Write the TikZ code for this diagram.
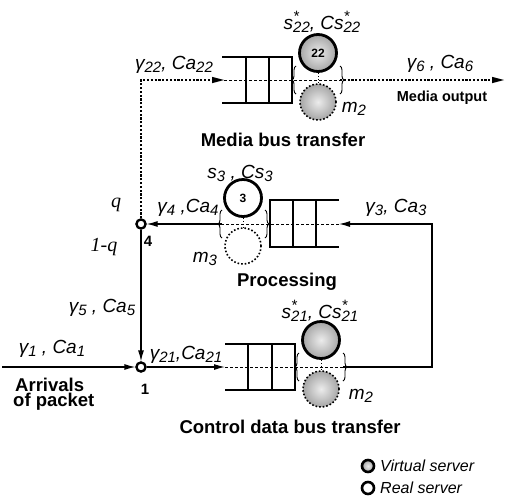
\documentclass[tikz,border=0pt]{standalone}
\usepackage{fontspec}
\setmainfont{Liberation Sans}
\newfontfamily\labfont{Liberation Sans}
\newfontfamily\serfont{Liberation Serif}
\usetikzlibrary{arrows.meta,decorations.pathreplacing,shadings}
\newcommand\sbx[1]{\raisebox{-0.3ex}{\fontsize{15}{15}\selectfont #1}}
\newcommand\ssx[1]{\rlap{\raisebox{0.85ex}{\fontsize{15}{15}\selectfont *}}\raisebox{-0.3ex}{\fontsize{15}{15}\selectfont #1}}
\tikzset{
  lab/.style={font=\labfont\itshape\fontsize{19}{19}\selectfont, inner sep=0pt},
  ttl/.style={font=\labfont\bfseries\fontsize{18.5}{18.5}\selectfont, inner sep=0pt},
  sttl/.style={font=\labfont\bfseries\fontsize{14.5}{14.5}\selectfont, inner sep=0pt},
  ser/.style={font=\serfont\itshape\fontsize{20}{20}\selectfont, inner sep=0pt},
  qline/.style={line width=2.6pt},
  flow/.style={line width=1.2pt},
  mflow/.style={line width=2.2pt, dash pattern=on 2.2pt off 1.6pt},
  inner/.style={line width=0.8pt, dash pattern=on 3pt off 2pt},
  arr/.style={-{Latex[length=11pt,width=6pt]}},
  real/.style={circle, draw, line width=2.8pt, minimum size=37pt, inner sep=0pt, fill=white, font=\labfont\bfseries\fontsize{12}{12}\selectfont},
  virt/.style={real, inner color=gray!15, outer color=gray!70},
  vdash/.style={circle, draw, line width=1.6pt, dotted, minimum size=36pt, inner sep=0pt},
  vdashg/.style={vdash, inner color=gray!15, outer color=gray!70},
  joint/.style={circle, draw, line width=2.2pt, fill=white, minimum size=9pt, inner sep=0pt},
  brc/.style={decorate, decoration={brace, amplitude=4pt}, line width=0.9pt},
  lg/.style={circle, draw, line width=2.6pt, minimum size=12pt, inner sep=0pt},
  link/.style={line width=0.6pt, dash pattern=on 1.5pt off 1.5pt},
}
\begin{document}
\begin{tikzpicture}[x=1pt,y=-1pt]
\useasboundingbox (0,0) rectangle (505,499);
% junction nodes and corners
\node[joint] (n4) at (141,224) {};
\node[joint] (n1) at (141,367) {};
\coordinate (c1) at (141,80);
\coordinate (mq) at (224,80);
\coordinate (mb) at (340,80);
\coordinate (mo) at (504,80);
\coordinate (pr) at (432,224);
\coordinate (pq) at (339,224);
\coordinate (pb) at (222,224);
\coordinate (cr) at (432,367);
\coordinate (cq) at (225,367);
\coordinate (cb) at (343,367);
\coordinate (in) at (2,367);
% media bus
\draw[mflow] (n4) -- (c1) -- ([xshift=-9pt]mq);
\fill (mq) -- ++(-12,-3.2) -- ++(0,6.4) -- cycle;
\draw[inner] (mq) -- (mb);
\draw[mflow] (mb) -- ([xshift=-8pt]mo);
\fill (mo) -- ++(-12,-3.2) -- ++(0,6.4) -- cycle;
\draw[qline] (222,57) -- (292,57) -- (292,103) -- (222,103);
\draw[qline] (246,57) -- (246,103) (269,57) -- (269,103);
\node[virt] (s22) at (318,53) {22};
\node[vdashg] (v22) at (318,102) {};
\draw[link] (s22.south) -- (v22.north);
\draw[brc] (296,94) -- (296,66);
\draw[brc] (340,66) -- (340,94);
% processing
\draw[flow, arr] (cb) -- (cr) -- (pr) -- (pq);
\draw[inner] (pq) -- (pb);
\draw[flow, arr] (pb) -- (n4);
\draw[qline] (339,200) -- (270,200) -- (270,247) -- (339,247);
\draw[qline] (293,200) -- (293,247) (316,200) -- (316,247);
\node[real] (s3) at (243,198) {3};
\node[vdash] (v3) at (243,246) {};
\draw[link] (s3.south) -- (v3.north);
\draw[brc] (222,238) -- (222,210);
\draw[brc] (265,210) -- (265,238);
% control
\draw[flow, arr] (n4) -- (n1);
\draw[flow, arr] (in) -- (n1);
\draw[flow, arr] (n1) -- (cq);
\draw[inner] (cq) -- (cb);
\draw[qline] (225,344) -- (295,344) -- (295,390) -- (225,390);
\draw[qline] (248,344) -- (248,390) (272,344) -- (272,390);
\node[virt] (s21) at (321,340) {};
\node[vdashg] (v21) at (321,389) {};
\draw[link] (s21.south) -- (v21.north);
\draw[brc] (299,381) -- (299,353);
\draw[brc] (343,353) -- (343,381);
% redraw junctions on top
\node[joint] at (n4) {};
\node[joint] at (n1) {};
% labels
\node[lab] (l1) at (322,22) {s\ssx{22}, Cs\ssx{22}};
\node[lab] (l2) at (174,65) {γ\sbx{22}, Ca\sbx{22}};
\node[lab] (l3) at (440,64) {γ\sbx{6} , Ca\sbx{6}};
\node[sttl] (l4) at (442,98) {Media output};
\node[lab] (l5) at (354,109) {m\sbx{2}};
\node[ttl] (l6) at (283,140) {Media bus transfer};
\node[lab] (l7) at (240,173) {s\sbx{3} , Cs\sbx{3}};
\node[ser] (l8) at (116,205) {q};
\node[lab] (l9) at (188,208) {γ\sbx{4} ,Ca\sbx{4}};
\node[lab] (l10) at (396,208) {γ\sbx{3}, Ca\sbx{3}};
\node[sttl, font=\labfont\bfseries\fontsize{15}{15}\selectfont] (l11) at (148,241) {4};
\node[ser] (l12) at (104,247) {1-q};
\node[lab] (l13) at (205,259) {m\sbx{3}};
\node[ttl] (l14) at (287,282) {Processing};
\node[lab] (l15) at (102,308) {γ\sbx{5} , Ca\sbx{5}};
\node[lab] (l16) at (320,311) {s\ssx{21}, Cs\ssx{21}};
\node[lab] (l17) at (52,349) {γ\sbx{1} , Ca\sbx{1}};
\node[lab] (l18) at (186,355) {γ\sbx{21},Ca\sbx{21}};
\node[ttl, anchor=west] (l19) at (15,385) {Arrivals};
\node[ttl, anchor=west] (l20) at (13,402) {of packet};
\node[sttl, font=\labfont\bfseries\fontsize{15}{15}\selectfont] (l21) at (145,389) {1};
\node[lab] (l22) at (361,396) {m\sbx{2}};
\node[ttl] (l23) at (290,427) {Control data bus transfer};
% legend
\node[lg, inner color=gray!15, outer color=gray!70] (g1) at (368,466) {};
\node[lg] (g2) at (368,488) {};
\node[lab, font=\labfont\itshape\fontsize{16}{16}\selectfont, anchor=west] (t1) at (380,466) {Virtual server};
\node[lab, font=\labfont\itshape\fontsize{16}{16}\selectfont, anchor=west] (t2) at (380,488) {Real server};
\end{tikzpicture}
\end{document}
